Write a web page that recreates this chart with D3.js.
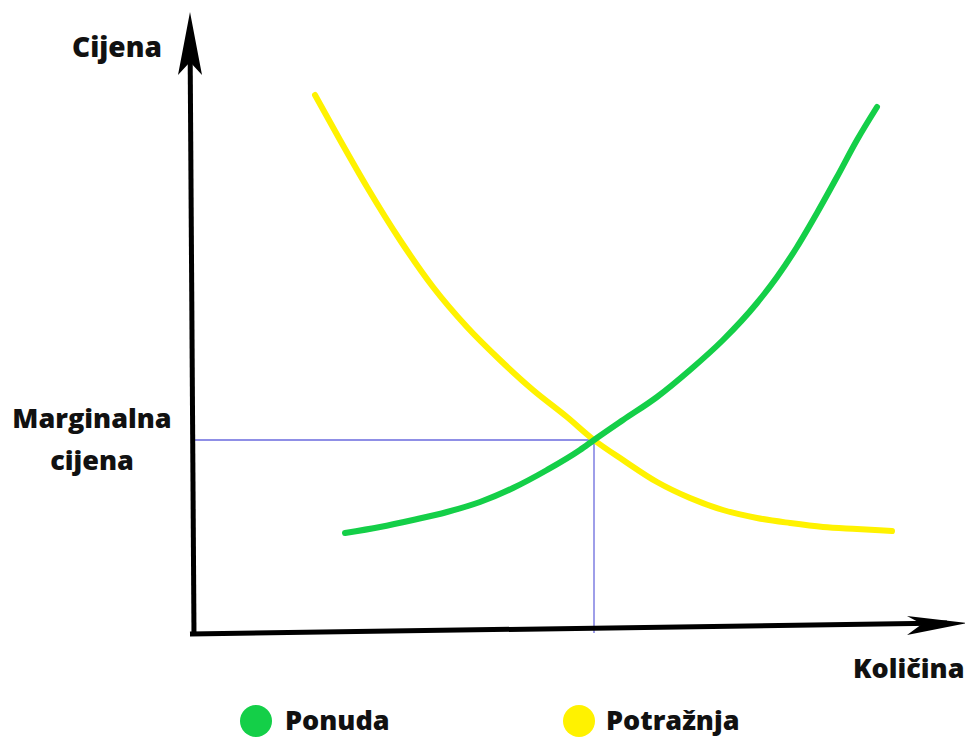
<!DOCTYPE html>
<html>
<head>
<meta charset="utf-8">
<script src="https://cdn.jsdelivr.net/npm/d3@7"></script>
<style>
  html, body { margin: 0; padding: 0; background: #ffffff; }
  svg { display: block; }
  text { font-family: "Open Sans", "Noto Sans", sans-serif; font-weight: 800; fill: #111; }
</style>
</head>
<body>
<script>
// ---- data ----
const seriesNames = ["Ponuda", "Potražnja"];
const supplyQ = [30.6, 37.6, 44.2, 51, 57.6, 64.2, 71, 77.6, 80.4, 86.2, 93, 99.6, 106.2, 113, 117, 121, 125, 129, 133, 137];
const supplyP = [20, 21.2, 22.6, 24.2, 26.2, 29, 32.6, 36.6, 38.6, 42.6, 47.2, 52.6, 58.6, 66, 71.2, 77.2, 84, 91.2, 98.6, 105.2];
const demandQ = [24.6, 29.6, 35, 41.6, 48.2, 55, 61.6, 68.2, 75, 80.4, 86.2, 93, 99.6, 106.2, 113, 119.6, 126.2, 133, 140];
const demandP = [107.6, 98.6, 89.2, 78.6, 69.2, 61.2, 54.6, 48.6, 43.2, 38.6, 34.6, 30.2, 27, 24.6, 23, 22, 21.2, 20.8, 20.4];
const equilibrium = { q: 80.4, p: 38.6 };
const axisTitles = { y: "Cijena", x: "Količina", eq: ["Marginalna", "cijena"] };

const W = 965, H = 740;
const colors = { supply: "#14cf48", demand: "#fff200", guide: "#6a6ade", axis: "#000" };

const svg = d3.select("body").append("svg").attr("width", W).attr("height", H);

const x = d3.scaleLinear().domain([0, 140]).range([192, 892]);
const y = d3.scaleLinear().domain([0, 120]).range([633, 33]);

// guides
svg.append("line")
  .attr("x1", x(0.2)).attr("y1", y(equilibrium.p))
  .attr("x2", x(equilibrium.q)).attr("y2", y(equilibrium.p))
  .attr("stroke", colors.guide).attr("stroke-width", 1.3);
svg.append("line")
  .attr("x1", x(equilibrium.q)).attr("y1", y(equilibrium.p))
  .attr("x2", x(equilibrium.q)).attr("y2", y(0))
  .attr("stroke", colors.guide).attr("stroke-width", 1.3);

// axes (hand-drawn style arrows)
const yTop = y(124.2), xRight = x(155);
svg.append("line")
  .attr("x1", x(0.4)).attr("y1", y(-0.6))
  .attr("x2", x(-0.4)).attr("y2", yTop + 20)
  .attr("stroke", colors.axis).attr("stroke-width", 5);
svg.append("path")
  .attr("d", `M${x(-0.4)},${yTop} L${x(2.0)},${yTop + 63} L${x(-0.4)},${yTop + 50} L${x(-2.8)},${yTop + 63} Z`)
  .attr("fill", colors.axis);

svg.append("line")
  .attr("x1", x(-0.4)).attr("y1", y(-0.2))
  .attr("x2", xRight - 20).attr("y2", y(2.0))
  .attr("stroke", colors.axis).attr("stroke-width", 5);
svg.append("path")
  .attr("d", `M${xRight},${y(2.0)} L${xRight - 60},${y(3.4)} L${xRight - 45},${y(1.8)} L${xRight - 60},${y(-0.4)} Z`)
  .attr("fill", colors.axis);

// curves
const line = d3.line().x(d => x(d[0])).y(d => y(d[1])).curve(d3.curveMonotoneX);
svg.append("path")
  .datum(demandQ.map((q, i) => [q, demandP[i]]))
  .attr("d", line).attr("fill", "none")
  .attr("stroke", colors.demand).attr("stroke-width", 6).attr("stroke-linecap", "round");
svg.append("path")
  .datum(supplyQ.map((q, i) => [q, supplyP[i]]))
  .attr("d", line).attr("fill", "none")
  .attr("stroke", colors.supply).attr("stroke-width", 6).attr("stroke-linecap", "round");

// labels
svg.append("text").attr("x", 72).attr("y", 57).attr("font-size", 28).text(axisTitles.y);
svg.append("text").attr("x", 853).attr("y", 678).attr("font-size", 27).text(axisTitles.x);
svg.append("text").attr("x", 92).attr("y", 428).attr("text-anchor", "middle").attr("font-size", 27).text(axisTitles.eq[0]);
svg.append("text").attr("x", 92).attr("y", 470).attr("text-anchor", "middle").attr("font-size", 27).text(axisTitles.eq[1]);

// legend
const legend = [
  { name: seriesNames[0], color: colors.supply, cx: 256, tx: 285 },
  { name: seriesNames[1], color: colors.demand, cx: 579, tx: 606 }
];
const lg = svg.append("g");
lg.selectAll("circle").data(legend).join("circle")
  .attr("cx", d => d.cx).attr("cy", 721).attr("r", 16).attr("fill", d => d.color);
lg.selectAll("text").data(legend).join("text")
  .attr("x", d => d.tx).attr("y", 730).attr("font-size", 27).text(d => d.name);
</script>
</body>
</html>
